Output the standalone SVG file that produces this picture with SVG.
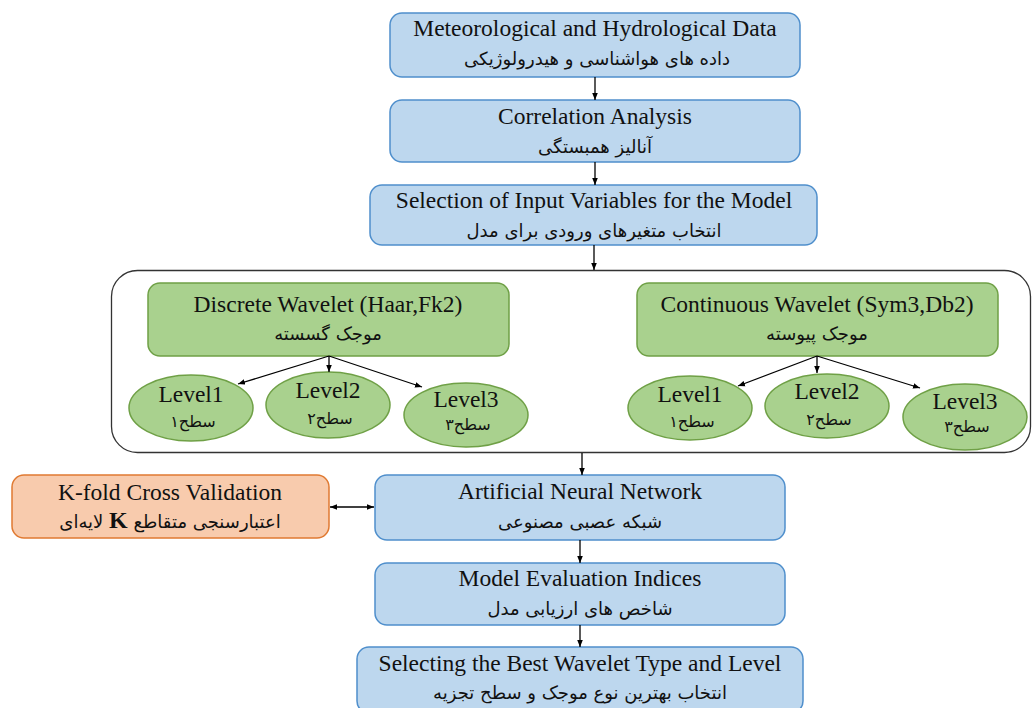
<svg xmlns="http://www.w3.org/2000/svg" width="1035" height="708" viewBox="0 0 1035 708">
<defs>
<marker id="ah" viewBox="0 0 10 10" refX="10" refY="5" markerWidth="7" markerHeight="7" orient="auto-start-reverse" markerUnits="userSpaceOnUse">
<path d="M0,1 L10,5 L0,9 z" fill="#000"/>
</marker>
<style>
.blue{fill:#BDD7EE;stroke:#4F8FCC;stroke-width:1.5}
.green{fill:#A9D18E;stroke:#6FA046;stroke-width:1.5}
.orange{fill:#F8CBAD;stroke:#E07A32;stroke-width:1.5}
.cont{fill:#fff;stroke:#333;stroke-width:1.3}
.en{font-family:"Liberation Serif","Times New Roman",serif;font-size:23.5px;fill:#111;text-anchor:middle}
.fa{font-family:"DejaVu Sans",sans-serif;font-size:18px;fill:#111;text-anchor:middle}
.lv{font-family:"DejaVu Sans",sans-serif;font-size:16px;fill:#111;text-anchor:middle}
.conn line{stroke:#000;stroke-width:1.3;marker-end:url(#ah)}
</style>
</defs>
<rect width="1035" height="708" fill="#fff"/>

<g id="container"><rect class="cont" x="111.5" y="270.5" width="919" height="182" rx="26"/></g>

<g id="data"><rect class="blue" x="390" y="13" width="410" height="64" rx="12"/>
<text class="en" x="595" y="36">Meteorological and Hydrological Data</text>
<text class="fa" x="597" y="65" direction="rtl">داده های هواشناسی و هیدرولوژیکی</text></g>

<g id="corr"><rect class="blue" x="390" y="100" width="410" height="62" rx="12"/>
<text class="en" x="595" y="124">Correlation Analysis</text>
<text class="fa" x="595" y="153" direction="rtl">آنالیز همبستگی</text></g>

<g id="sel"><rect class="blue" x="370" y="185" width="447" height="60" rx="12"/>
<text class="en" x="594" y="208">Selection of Input Variables for the Model</text>
<text class="fa" x="594" y="237" direction="rtl">انتخاب متغیرهای ورودی برای مدل</text></g>

<g id="discrete"><rect class="green" x="148" y="283" width="361" height="73" rx="12"/>
<text class="en" x="328" y="312">Discrete Wavelet (Haar,Fk2)</text>
<text class="fa" x="328" y="340" direction="rtl">موجک گسسته</text></g>

<g id="continuous"><rect class="green" x="637" y="283" width="361" height="73" rx="12"/>
<text class="en" x="817" y="312">Continuous Wavelet (Sym3,Db2)</text>
<text class="fa" x="817" y="340" direction="rtl">موجک پیوسته</text></g>

<g id="d1"><ellipse class="green" cx="191" cy="408" rx="62" ry="33"/>
<text class="en" x="191" y="402">Level1</text><text class="lv" x="193" y="427" direction="rtl">سطح۱</text></g>
<g id="d2"><ellipse class="green" cx="328" cy="405" rx="62" ry="33"/>
<text class="en" x="328" y="398">Level2</text><text class="lv" x="330" y="424" direction="rtl">سطح۲</text></g>
<g id="d3"><ellipse class="green" cx="466" cy="415" rx="62" ry="32"/>
<text class="en" x="466" y="407">Level3</text><text class="lv" x="468" y="430" direction="rtl">سطح۳</text></g>

<g id="c1"><ellipse class="green" cx="690" cy="408" rx="62" ry="32"/>
<text class="en" x="690" y="402">Level1</text><text class="lv" x="692" y="427" direction="rtl">سطح۱</text></g>
<g id="c2"><ellipse class="green" cx="827" cy="406" rx="62" ry="32"/>
<text class="en" x="827" y="399">Level2</text><text class="lv" x="829" y="425" direction="rtl">سطح۲</text></g>
<g id="c3"><ellipse class="green" cx="965" cy="417" rx="62" ry="33"/>
<text class="en" x="965" y="409">Level3</text><text class="lv" x="967" y="432" direction="rtl">سطح۳</text></g>

<g id="kfold"><rect class="orange" x="12" y="475" width="317" height="63" rx="12"/>
<text class="en" x="170" y="500">K-fold Cross Validation</text>
<text class="fa" x="170" y="528" direction="rtl">اعتبارسنجی متقاطع <tspan font-family="Liberation Serif" font-size="24px" font-weight="bold">K</tspan> لایه‌ای</text></g>

<g id="ann"><rect class="blue" x="375" y="475" width="410" height="65" rx="12"/>
<text class="en" x="580" y="499">Artificial Neural Network</text>
<text class="fa" x="580" y="528" direction="rtl">شبکه عصبی مصنوعی</text></g>

<g id="eval"><rect class="blue" x="375" y="563" width="410" height="62" rx="12"/>
<text class="en" x="580" y="586">Model Evaluation Indices</text>
<text class="fa" x="580" y="615" direction="rtl">شاخص های ارزیابی مدل</text></g>

<g id="best"><rect class="blue" x="357" y="647" width="446" height="66" rx="12"/>
<text class="en" x="580" y="671">Selecting the Best Wavelet Type and Level</text>
<text class="fa" x="580" y="699" direction="rtl">انتخاب بهترین نوع موجک و سطح تجزیه</text></g>

<g class="conn" id="connectors">
<line x1="595" y1="77" x2="595" y2="100"/>
<line x1="595" y1="162" x2="595" y2="185"/>
<line x1="594" y1="245" x2="594" y2="270"/>
<line x1="329" y1="356" x2="238" y2="384"/>
<line x1="329" y1="356" x2="329" y2="372"/>
<line x1="329" y1="356" x2="422" y2="387"/>
<line x1="817" y1="356" x2="738" y2="386"/>
<line x1="817" y1="356" x2="817" y2="373"/>
<line x1="817" y1="356" x2="920" y2="388"/>
<line x1="582" y1="453" x2="582" y2="475"/>
<line x1="330" y1="507" x2="374" y2="507" marker-start="url(#ah)"/>
<line x1="580" y1="540" x2="580" y2="563"/>
<line x1="580" y1="625" x2="580" y2="647"/>
</g>
</svg>
